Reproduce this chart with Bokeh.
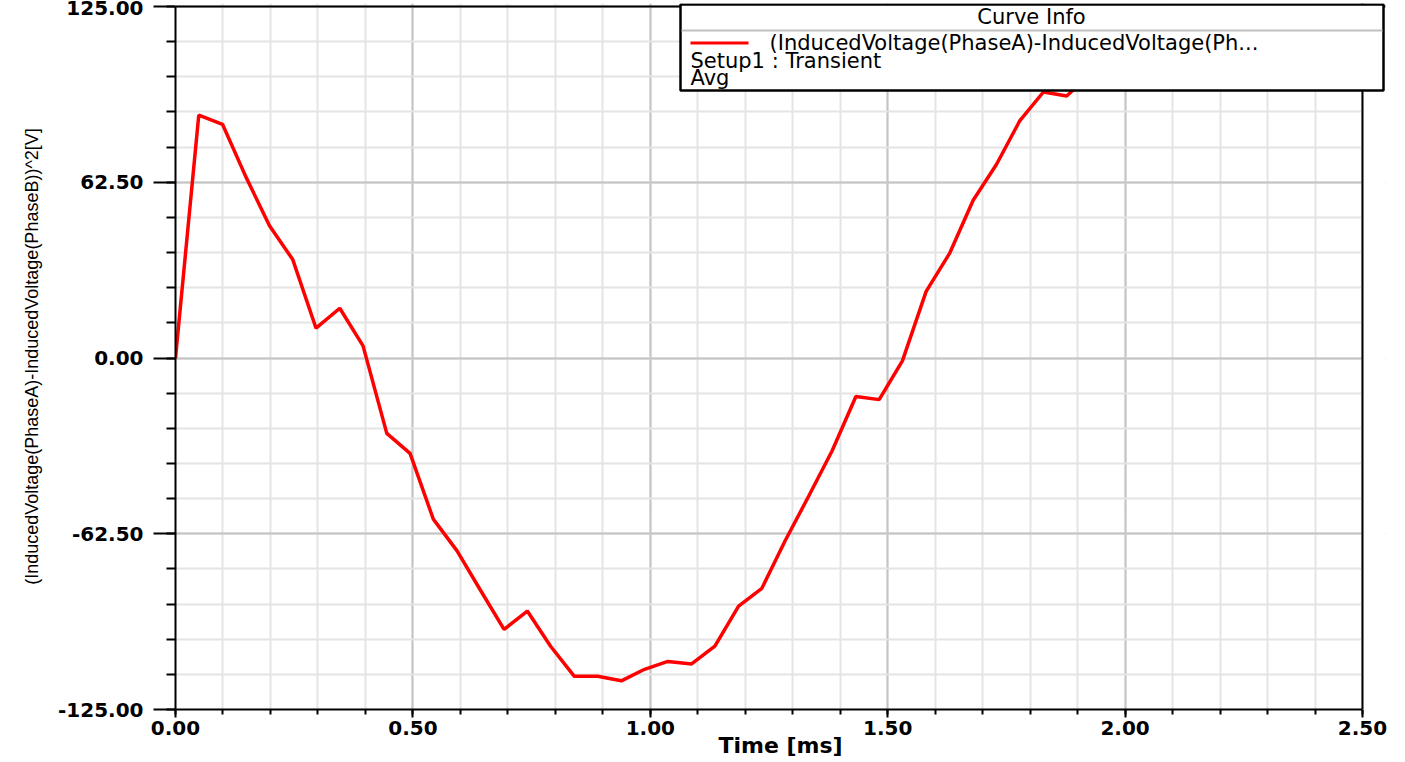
from bokeh.plotting import figure
from bokeh.models import (SingleIntervalTicker, PrintfTickFormatter, Range1d,
                          BoxAnnotation, Label, Span, ColumnDataSource)
from bokeh.embed import file_html
from bokeh.resources import INLINE

# ---- data ----
time_ms = [0.000, 0.049, 0.099, 0.148, 0.198, 0.247, 0.296, 0.346, 0.395, 0.445,
           0.494, 0.543, 0.593, 0.642, 0.692, 0.741, 0.790, 0.840, 0.889, 0.939,
           0.988, 1.037, 1.087, 1.136, 1.186, 1.235, 1.284, 1.334, 1.383, 1.433,
           1.482, 1.531, 1.581, 1.630, 1.680, 1.729, 1.778, 1.828, 1.877, 1.927,
           1.976]
voltage_sq = [0.0, 86.4, 83.1, 64.5, 47.0, 35.0, 10.6, 17.7, 4.3, -26.8,
              -33.9, -57.3, -68.6, -82.5, -96.5, -90.0, -102.5, -113.2, -113.2, -114.8,
              -110.7, -107.9, -108.8, -102.5, -88.2, -81.9, -65.0, -49.0, -33.0, -13.7,
              -14.8, -1.0, 23.7, 37.1, 56.1, 68.8, 84.3, 94.6, 93.2, 101.0,
              108.0]

x_limits = [0.0, 2.5]
y_limits = [-125.0, 125.0]
x_major_step = 0.5
y_major_step = 62.5

x_title = "Time [ms]"
y_title = "(InducedVoltage(PhaseA)-InducedVoltage(PhaseB))^2[V]"
legend_title = "Curve Info"
legend_lines = ["(InducedVoltage(PhaseA)-InducedVoltage(Ph...",
                "Setup1 : Transient",
                "Avg"]

# ---- geometry (pixels) ----
W, H = 1389, 760
frame_left, frame_top, frame_bottom = 175, 3, 709
axes_right = 1362          # where the x axis ends (2.50)
frame_right = 1385         # frame reaches a bit further so the info box can overhang
axes_top = 6               # where 125.00 sits

x_end = x_limits[0] + (x_limits[1] - x_limits[0]) * (frame_right - frame_left) / (axes_right - frame_left)
y_end = y_limits[0] + (y_limits[1] - y_limits[0]) * (frame_bottom - frame_top) / (frame_bottom - axes_top)

p = figure(width=W, height=H, output_backend="svg", toolbar_location=None,
           x_range=Range1d(x_limits[0], x_end), y_range=Range1d(y_limits[0], y_end),
           min_border_left=frame_left, min_border_right=W - frame_right,
           min_border_top=frame_top, min_border_bottom=H - frame_bottom)
p.background_fill_color = "white"
p.border_fill_color = "white"
p.outline_line_color = None

xt = SingleIntervalTicker(interval=x_major_step, num_minor_ticks=5)
yt = SingleIntervalTicker(interval=y_major_step, num_minor_ticks=5)
p.xaxis.ticker = xt
p.yaxis.ticker = yt
p.xgrid.ticker = xt
p.ygrid.ticker = yt
p.xaxis.bounds = tuple(x_limits)
p.yaxis.bounds = tuple(y_limits)
p.xaxis.formatter = PrintfTickFormatter(format="%.2f")
p.yaxis.formatter = PrintfTickFormatter(format="%.2f")

for ax in (p.xaxis, p.yaxis):
    ax.axis_line_color = "black"
    ax.axis_line_width = 2
    ax.major_tick_line_color = "black"
    ax.major_tick_line_width = 2
    ax.minor_tick_line_color = "black"
    ax.minor_tick_line_width = 2
    ax.major_tick_in = 0
    ax.minor_tick_in = 0
    ax.major_label_text_font = "DejaVu Sans"
    ax.major_label_text_font_style = "bold"
    ax.major_label_text_font_size = "20px"
    ax.major_label_text_color = "black"

p.xaxis.major_tick_out = 8
p.xaxis.minor_tick_out = 5
p.xaxis.major_label_standoff = 3
p.yaxis.major_tick_out = 22
p.yaxis.minor_tick_out = 9
p.yaxis.major_label_standoff = 10

p.xaxis.axis_label = x_title
p.xaxis.axis_label_text_font = "DejaVu Sans"
p.xaxis.axis_label_text_font_size = "22px"
p.xaxis.axis_label_text_font_style = "bold"
p.xaxis.axis_label_text_color = "black"
p.xaxis.axis_label_standoff = -5

p.yaxis.axis_label = y_title
p.yaxis.axis_label_text_font = "Liberation Sans"
p.yaxis.axis_label_text_font_size = "18px"
p.yaxis.axis_label_text_font_style = "normal"
p.yaxis.axis_label_text_color = "black"
p.yaxis.axis_label_standoff = 13

p.grid.grid_line_color = "#c4c4c4"
p.grid.grid_line_width = 2
p.grid.minor_grid_line_color = "#e4e4e4"
p.grid.minor_grid_line_width = 2

src = ColumnDataSource(data=dict(t=time_ms, v=voltage_sq))
p.line("t", "v", source=src, line_color="#ff0000", line_width=3.5)

# blank out the strip right of 2.50 and draw the top / right borders
p.add_layout(BoxAnnotation(left=x_limits[1], fill_color="white", fill_alpha=1.0,
                           line_alpha=0.0))
p.add_layout(Span(location=y_limits[1], dimension="width",
                  line_color="black", line_width=2))
p.add_layout(Span(location=x_limits[1], dimension="height",
                  line_color="black", line_width=2))

# ---- "Curve Info" box (screen units, relative to the frame's bottom-left) ----
fx = lambda px: px - frame_left
fy = lambda py: frame_bottom - py
scr = dict(left_units="screen", right_units="screen",
           top_units="screen", bottom_units="screen")
p.add_layout(BoxAnnotation(left=fx(680), right=fx(1383), bottom=fy(90), top=fy(4),
                           fill_color="white", fill_alpha=1.0,
                           line_color="black", line_width=2.5, line_alpha=1.0, **scr))
p.add_layout(BoxAnnotation(left=fx(681), right=fx(1382), bottom=fy(31), top=fy(29),
                           fill_color="#c0c0c0", fill_alpha=1.0,
                           line_alpha=0.0, **scr))
p.add_layout(BoxAnnotation(left=fx(690), right=fx(748), bottom=fy(44), top=fy(41),
                           fill_color="#ff0000", fill_alpha=1.0,
                           line_alpha=0.0, **scr))

lab = dict(x_units="screen", y_units="screen", text_baseline="middle",
           text_font="DejaVu Sans", text_font_size="21px", text_color="black")
p.add_layout(Label(x=fx(1031), y=fy(16), text=legend_title, text_align="center", **lab))
p.add_layout(Label(x=fx(769), y=fy(42.5), text=legend_lines[0], text_align="left", **lab))
p.add_layout(Label(x=fx(690), y=fy(60), text=legend_lines[1], text_align="left", **lab))
p.add_layout(Label(x=fx(690), y=fy(77), text=legend_lines[2], text_align="left", **lab))

open("out.html", "w").write(file_html(p, INLINE))
